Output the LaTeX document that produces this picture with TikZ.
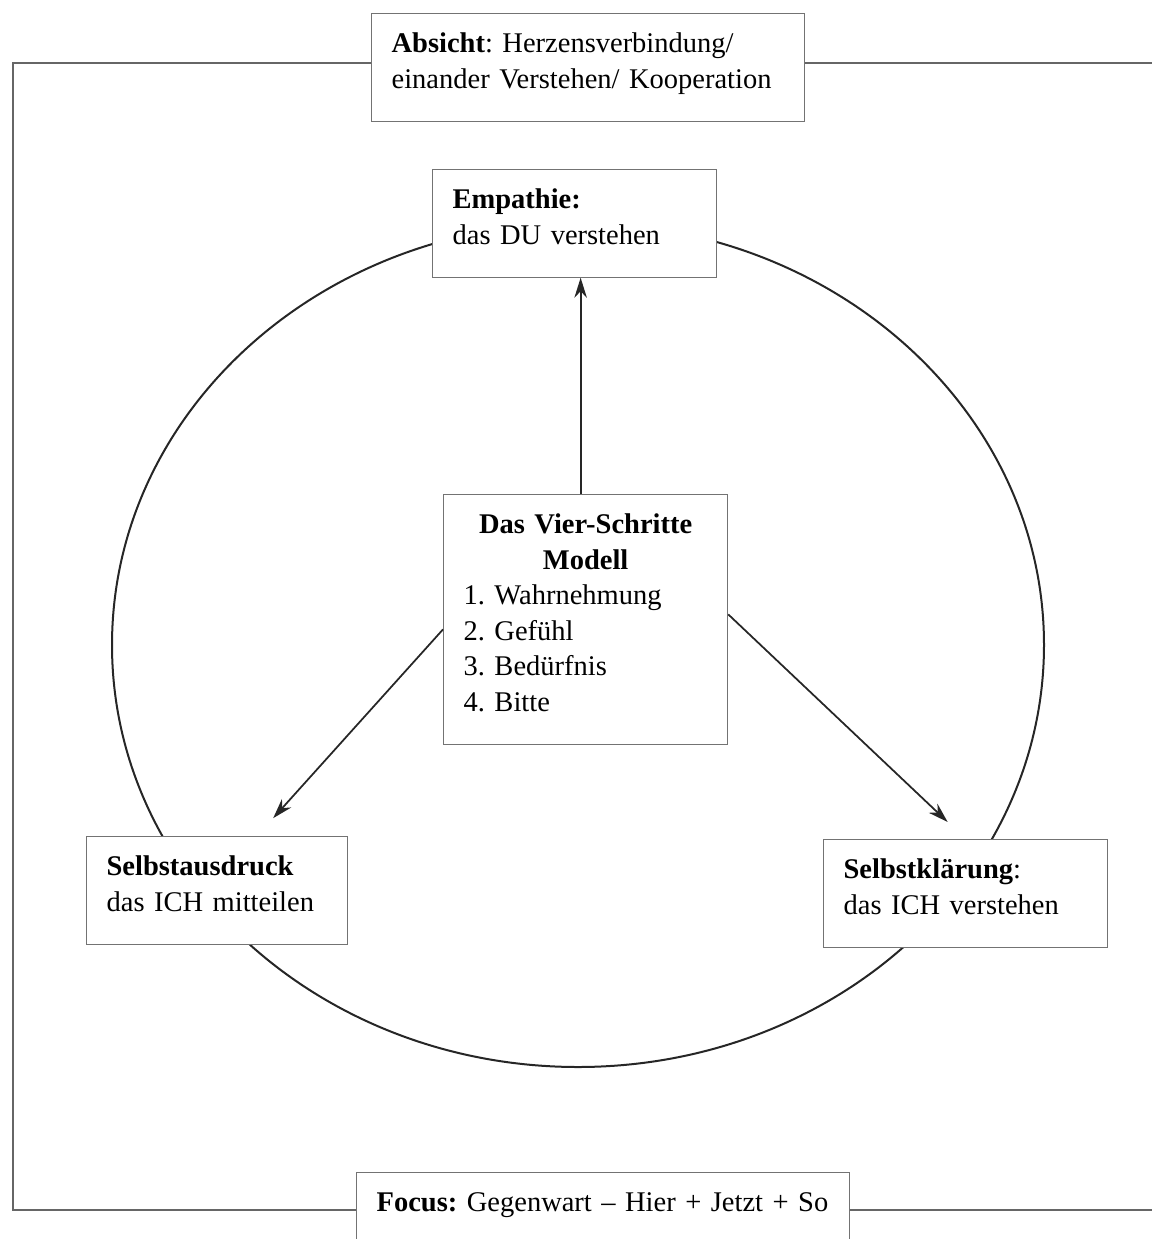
\documentclass[tikz,border=0pt]{standalone}
\usepackage{fontspec}
\setmainfont{Liberation Serif}
\usetikzlibrary{arrows.meta}

\begin{document}
\begin{tikzpicture}[x=0.4pt, y=-0.4pt,
  box/.style={draw=black!55, line width=0.5pt, fill=white, anchor=north west,
    align=left, inner xsep=8pt, inner ysep=7.6pt, text height=8pt,
    font=\fontsize{11.4}{14.2}\selectfont\frenchspacing},
  arr/.style={-{Stealth[length=8pt, width=5pt]}, line width=0.7pt, black!85}]
\useasboundingbox (0,0) rectangle (1152,1239);
\clip (0,0) rectangle (1152,1239);

% Frame and circle
\draw[black!60, line width=0.6pt] (1152,63) -- (13,63) -- (13,1210) -- (1152,1210);
\draw[black!85, line width=0.8pt] (578,645) ellipse [x radius=466, y radius=422];

% Boxes
\node[box, text width=157.2pt, text depth=19.8pt] (absicht) at (371,13)
  {\textbf{Absicht}: Herzensverbindung/\\einander Verstehen/ Kooperation};
\node[box, text width=97.6pt, text depth=19.8pt] (empathie) at (432,169)
  {\textbf{Empathie:}\\das DU verstehen};
\node[box, text width=97.6pt, text depth=76.6pt] (modell) at (443,494)
  {\makebox[\linewidth]{\textbf{Das Vier-Schritte}}\\\makebox[\linewidth]{\textbf{Modell}}\\
   1. Wahrnehmung\\2. Gefühl\\3. Bedürfnis\\4. Bitte};
\node[box, text width=88.4pt, text depth=19.8pt] (ausdruck) at (86,836)
  {\textbf{Selbstausdruck}\\das ICH mitteilen};
\node[box, text width=97.6pt, text depth=19.8pt] (klaerung) at (823,839)
  {\textbf{Selbstklärung}:\\das ICH verstehen};
\node[box, text width=181.2pt, text depth=8pt] (focus) at (356,1172)
  {\mbox{\textbf{Focus:} Gegenwart – Hier + Jetzt + So}};

% Arrows
\draw[arr] ([xshift=-2pt]modell.north) -- ([xshift=-2pt]modell.north |- empathie.south);
\draw[arr, shorten >=9.6pt] ([yshift=-4pt]modell.west) -- ([xshift=16pt]ausdruck.north);
\draw[arr, shorten >=9.9pt] ([yshift=2pt]modell.east) -- (klaerung.north);
\end{tikzpicture}
\end{document}
